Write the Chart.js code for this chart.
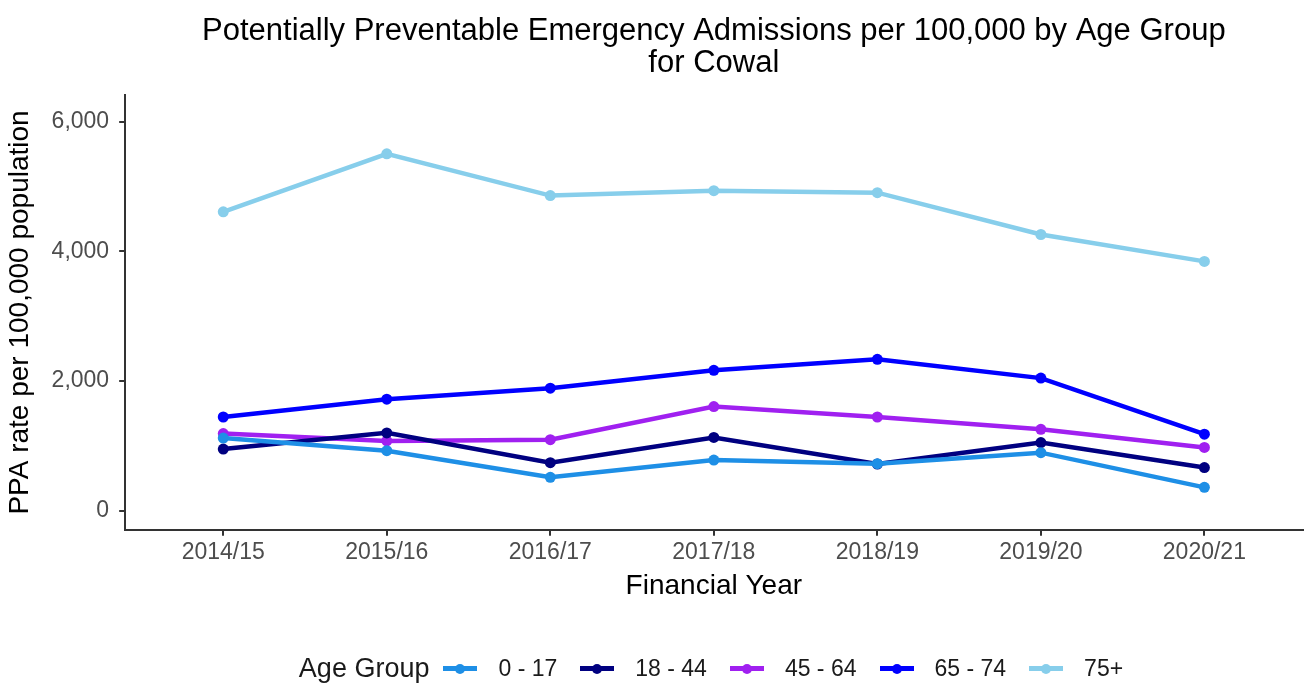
<!DOCTYPE html>
<html>
<head>
<meta charset="utf-8">
<script src="https://cdn.jsdelivr.net/npm/chart.js@4.4.1/dist/chart.umd.min.js"></script>
<style>
  body { margin: 0; background: #fff; font-family: "Liberation Sans", Arial, sans-serif; }
  #wrap { position: relative; width: 1308px; height: 683px; }
  #legend { position: absolute; left: 114px; right: 0; top: 652px; height: 32px; display: flex; justify-content: center; align-items: center; font-size: 23px; color: #1a1a1a; }
  #legend .ttl { font-size: 27px; margin-right: 14px; }
  #legend .mk { position: relative; display: inline-block; width: 34px; height: 5px; margin-right: 21px; }
  #legend .mk span { position: absolute; left: 12px; top: -2px; width: 10px; height: 10px; border-radius: 50%; }
  #legend .lb { margin-right: 23px; }
</style>
</head>
<body>
<div id="wrap">
  <canvas id="myChart1" width="1308" height="683"></canvas>
  <div id="legend"></div>
</div>
<script>
let years = ["2014/15", "2015/16", "2016/17", "2017/18", "2018/19", "2019/20", "2020/21"]
let groups = ["0 - 17", "18 - 44", "45 - 64", "65 - 74", "75+"]
let age0to17 = [1120, 925, 515, 780, 725, 895, 360]
let age18to44 = [950, 1200, 740, 1130, 720, 1050, 665]
let age45to64 = [1190, 1075, 1095, 1605, 1445, 1255, 975]
let age65to74 = [1445, 1720, 1890, 2165, 2335, 2045, 1180]
let age75plus = [4610, 5505, 4860, 4935, 4905, 4260, 3845]
let yTicks = [0, 2000, 4000, 6000]
let colours = ["#1E8FE6", "#000080", "#A020F0", "#0000FF", "#87CEEB"]

let series = [age0to17, age18to44, age45to64, age65to74, age75plus]
let font = "'Liberation Sans', Arial, sans-serif"

let datasets = series.map(function (vals, k) {
  return {
    label: groups[k],
    data: vals.map(function (v, i) { return { x: i, y: v } }),
    borderColor: colours[k],
    backgroundColor: colours[k],
    borderWidth: 4.5,
    pointRadius: 5.5,
    pointBorderWidth: 0,
    tension: 0
  }
})

// legend in html, built from the same arrays
let leg = document.getElementById("legend")
let html = '<span class="ttl">Age Group</span>'
groups.forEach(function (g, k) {
  html += '<span class="mk" style="background:' + colours[k] + '"><span style="background:' + colours[k] + '"></span></span>'
  html += '<span class="lb"' + (k == groups.length - 1 ? ' style="margin-right:0"' : '') + '>' + g + '</span>'
})
leg.innerHTML = html

const ctx = document.getElementById('myChart1')
new Chart(ctx, {
  type: "line",
  data: { datasets: datasets },
  options: {
    responsive: false,
    animation: false,
    layout: { padding: { left: 0, right: 3, top: 0, bottom: 80 } },
    plugins: {
      legend: { display: false },
      tooltip: { enabled: false },
      title: {
        display: true,
        fullSize: false,
        text: ["Potentially Preventable Emergency Admissions per 100,000 by Age Group", "for Cowal"],
        color: "#000",
        font: { family: font, size: 31, weight: "normal", lineHeight: 1.05 },
        padding: { top: 15, bottom: 15 }
      }
    },
    scales: {
      x: {
        type: "linear",
        min: -0.6,
        max: 6.6,
        afterBuildTicks: function (scale) { scale.ticks = years.map(function (y, i) { return { value: i } }) },
        ticks: {
          color: "#4d4d4d",
          font: { family: font, size: 23 },
          padding: 3,
          maxRotation: 0,
          callback: function (v) { return years[v] }
        },
        grid: { drawOnChartArea: false, drawTicks: true, tickLength: 6, color: "#333", lineWidth: 2 },
        border: { display: true, color: "#333", width: 2 },
        title: { display: true, text: "Financial Year", color: "#000", font: { family: font, size: 28 }, padding: { top: 0, bottom: 0 } }
      },
      y: {
        min: -295,
        max: 6410,
        afterBuildTicks: function (scale) { scale.ticks = yTicks.map(function (v) { return { value: v } }) },
        ticks: {
          color: "#4d4d4d",
          font: { family: font, size: 23 },
          padding: 10,
          callback: function (v) { return v.toLocaleString("en-US") }
        },
        grid: { drawOnChartArea: false, drawTicks: true, tickLength: 6, color: "#333", lineWidth: 2 },
        border: { display: true, color: "#333", width: 2 },
        title: { display: true, text: "PPA rate per 100,000 population", color: "#000", font: { family: font, size: 28 }, padding: { top: 3, bottom: 5 } }
      }
    }
  }
})
</script>
</body>
</html>
